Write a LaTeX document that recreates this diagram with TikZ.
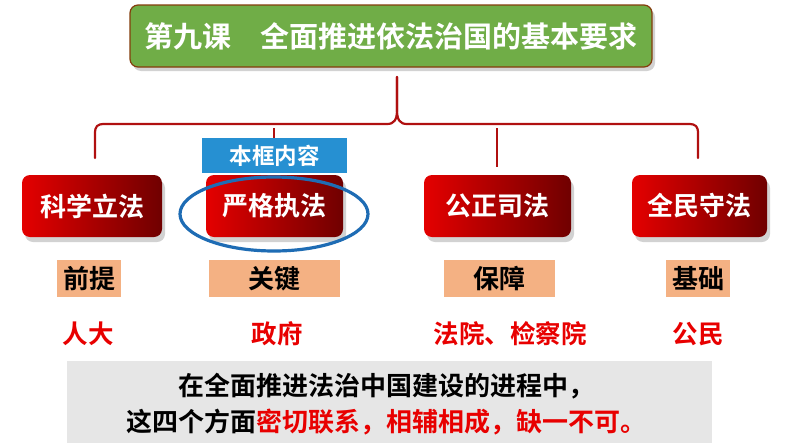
\documentclass[tikz,border=0pt]{standalone}
\usepackage{fontspec}
\setmainfont{Noto Sans CJK SC}[BoldFont={Noto Sans CJK SC Bold}]
\usetikzlibrary{shadows}
\definecolor{titlegreen}{RGB}{112,173,71}
\definecolor{titleborder}{RGB}{132,60,12}
\definecolor{bracered}{RGB}{176,16,16}
\definecolor{redL}{RGB}{228,0,0}
\definecolor{redR}{RGB}{112,0,0}
\definecolor{tagblue}{RGB}{38,144,210}
\definecolor{ringblue}{RGB}{30,108,180}
\definecolor{salmon}{RGB}{244,177,131}
\definecolor{txtred}{RGB}{232,0,0}
\definecolor{panelgray}{RGB}{230,230,230}
\tikzset{
  titlebox/.style={draw=titleborder,line width=1.2pt,fill=titlegreen,rounded corners=8pt,
    minimum width=522pt,minimum height=62pt,text=white,font=\bfseries\fontsize{29}{31}\selectfont,
    drop shadow={opacity=0.35,shadow xshift=3pt,shadow yshift=-4pt}},
  redbox/.style={rounded corners=8pt,left color=redL,right color=redR,minimum height=62pt,
    text=white,font=\bfseries\fontsize{26}{28}\selectfont,
    drop shadow={opacity=0.35,shadow xshift=3pt,shadow yshift=-5pt}},
  tagbox/.style={fill=tagblue,minimum width=145pt,minimum height=35pt,text=white,
    font=\bfseries\fontsize{22.5}{24}\selectfont},
  rolebox/.style={fill=salmon,minimum height=37pt,text=black,font=\bfseries\fontsize{26}{28}\selectfont},
  whotext/.style={text=txtred,font=\bfseries\fontsize{25.5}{27}\selectfont},
  brace/.style={draw=bracered,line width=2.2pt,line cap=round,line join=round},
  tick/.style={draw=bracered,line width=2.2pt},
  ring/.style={draw=ringblue,line width=3.2pt},
  panel/.style={fill=panelgray,minimum width=645pt,minimum height=82pt},
  paneltext/.style={text=black,font=\bfseries\fontsize{26}{28}\selectfont}
}
\begin{document}
\begin{tikzpicture}[x=1pt,y=-1pt]
\useasboundingbox (0,0) rectangle (794,447);
\fill[white] (0,0) rectangle (794,447);

% title
\node[titlebox] (title) at (391,36) {第九课　全面推进依法治国的基本要求};

% brace
\coordinate (cusp) at (397,77);
\coordinate (lend) at (95,158);
\coordinate (rend) at (698,158);
\draw[brace] (lend) -- (95,134) .. controls (95,126) and (97,124) .. (105,124)
  -- (387,124) .. controls (394,124) and (397,120) .. (397,110) -- (cusp);
\draw[brace] (cusp) -- (397,110) .. controls (397,120) and (400,124) .. (407,124)
  -- (688,124) .. controls (696,124) and (698,126) .. (698,134) -- (rend);

% tag
\node[tagbox] (tag) at (274.5,155.5) {本框内容};
\coordinate (t1) at (274,128);
\coordinate (t2) at (497,128);
\coordinate (t2e) at (497,167);
\draw[tick] (t1) -- (tag.north -| t1);
\draw[tick] (t2) -- (t2e);

% red boxes
\node[redbox,minimum width=140pt] (b1) at (92,206) {科学立法};
\node[redbox,minimum width=137pt] (b2) at (274.5,206) {严格执法};
\node[redbox,minimum width=147pt] (b3) at (497.5,206) {公正司法};
\node[redbox,minimum width=135pt] (b4) at (699.5,206) {全民守法};

% ring
\draw[ring] (274,214) ellipse [x radius=94, y radius=37];

% role boxes
\node[rolebox,minimum width=64pt] (r1) at (89,278.5) {前提};
\node[rolebox,minimum width=131pt] (r2) at (274.5,278.5) {关键};
\node[rolebox,minimum width=111pt] (r3) at (499.5,278.5) {保障};
\node[rolebox,minimum width=64pt] (r4) at (698,278.5) {基础};

% who
\node[whotext] (w1) at (88,334) {人大};
\node[whotext] (w2) at (277,334) {政府};
\node[whotext] (w3) at (510,334) {法院、检察院};
\node[whotext] (w4) at (698,334) {公民};

% panel
\node[panel] (panel) at (389.5,402) {};
\node[paneltext] (l1) at (386,386) {在全面推进法治中国建设的进程中，};
\node[paneltext] (l2) at (386,422) {这四个方面\textcolor{txtred}{密切联系，相辅相成，缺一不可。}};
\end{tikzpicture}
\end{document}
